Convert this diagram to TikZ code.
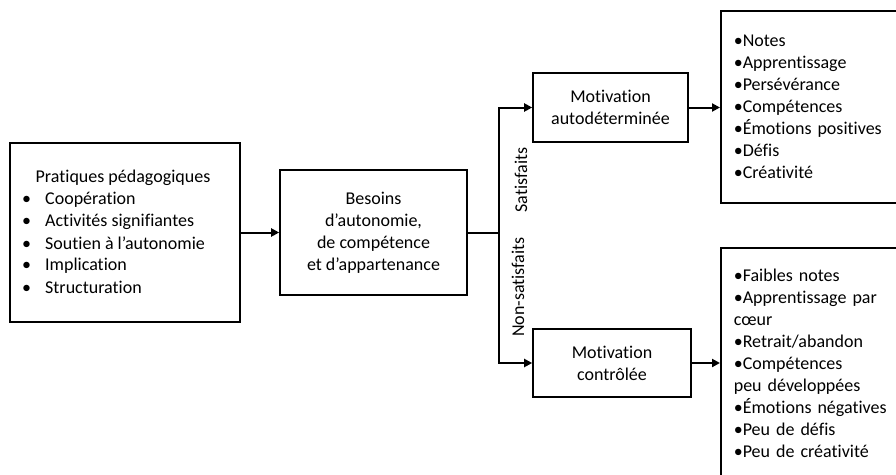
\documentclass[tikz,border=0pt]{standalone}
\usepackage{fontspec}
\setmainfont{Carlito}[Ligatures={TeX,NoCommon}]
\usetikzlibrary{positioning,arrows.meta}

\begin{document}
\begin{tikzpicture}[x=1pt, y=-1pt, >={Triangle[length=8pt,width=8pt]},
    every node/.style={font=\fontsize{18}{22}\selectfont, inner sep=0pt},
    box/.style={draw, line width=1.6pt, align=center},
    conn/.style={line width=2pt}]
    \useasboundingbox (0,0) rectangle (896,474);
    \clip (0,0) rectangle (896,474);

    % Pratiques
    \node[box, minimum width=230pt, minimum height=179pt] (prat) at (125,232.5) {};
    \node (pratt) at (123,178) {Pratiques pédagogiques};
    \foreach \t [count=\i] in {Coopération, Activités signifiantes, Soutien à l’autonomie, Implication, Structuration}
        \node[anchor=west] (prat\i) at (22,178+21.8*\i) {\makebox[23pt][l]{\textbullet}\t};

    % Besoins
    \node[box, minimum width=187pt, minimum height=125pt] (bes) at (373.5,232.5)
        {Besoins\\d’autonomie,\\de compétence\\et d’appartenance};

    % Motivations
    \node[box, minimum width=155pt, minimum height=69pt] (autod) at (610.5,107.5)
        {Motivation\\autodéterminée};
    \node[box, minimum width=158pt, minimum height=68pt] (ctrl) at (612,363)
        {Motivation\\contrôlée};

    % Consequences
    \node[box, anchor=north west, minimum width=200pt, minimum height=192pt,
          text width=174pt, inner xsep=13pt, align=left] (resA) at (720,10)
        {•Notes\\•Apprentissage\\•Persévérance\\•Compétences\\•Émotions positives\\•Défis\\•Créativité};
    \node[box, anchor=north west, minimum width=200pt, minimum height=231pt,
          text width=174pt, inner xsep=13pt, align=left] (resB) at (720,247)
        {•Faibles notes\\•Apprentissage par\\cœur\\•Retrait/abandon\\•Compétences\\peu développées\\•Émotions négatives\\•Peu de défis\\•Peu de créativité};

    % Connectors
    \coordinate (split) at (499,232.5);
    \draw[conn, ->] (prat.east) -- (bes.west);
    \draw[conn] (bes.east) -- (split);
    \draw[conn, ->] (split) |- (autod.west);
    \draw[conn, ->] (split) |- (ctrl.west);
    \draw[conn, ->] (autod.east) -- (autod.east -| resA.west);
    \draw[conn, ->] (ctrl.east) -- (ctrl.east -| resB.west);

    \node[rotate=90] (labsat) at (521,180) {Satisfaits};
    \node[rotate=90] (labnon) at (518,287) {Non-satisfaits};
\end{tikzpicture}
\end{document}
